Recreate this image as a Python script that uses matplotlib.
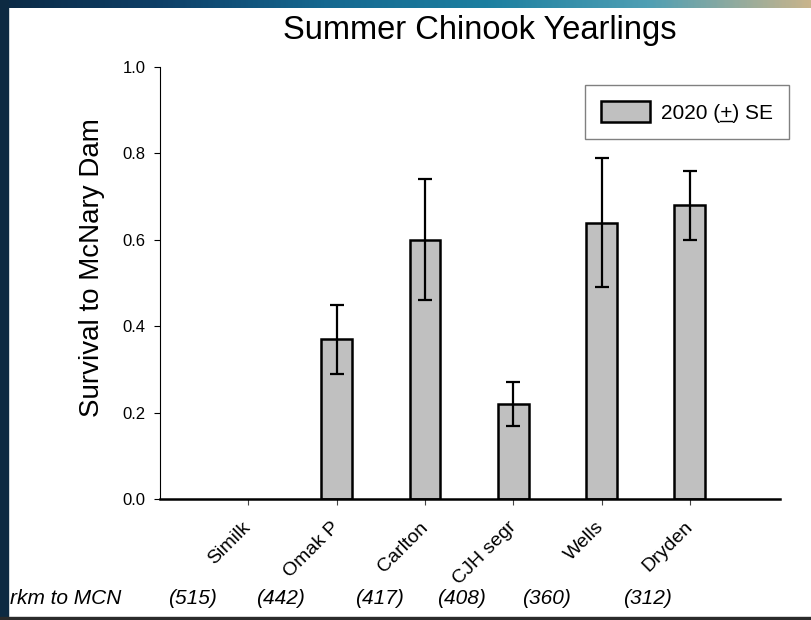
import matplotlib
matplotlib.use('Agg')
import matplotlib.pyplot as plt
import numpy as np
from matplotlib.colors import LinearSegmentedColormap
from matplotlib.patches import Rectangle
from matplotlib.lines import Line2D
from matplotlib import transforms

# ---------------- data ----------------
sites = ['Similk', 'Omak P', 'Carlton', 'CJH segr', 'Wells', 'Dryden']
survival = [np.nan, 0.37, 0.60, 0.22, 0.64, 0.68]
se = [np.nan, 0.08, 0.14, 0.05, 0.15, 0.08]
rkm = ['(515)', '(442)', '(417)', '(408)', '(360)', '(312)']
yticks = [0.0, 0.2, 0.4, 0.6, 0.8, 1.0]
legend_label = '2020 (+) SE'
title = 'Summer Chinook Yearlings'
ylabel = 'Survival to McNary Dam'
rkm_title = 'rkm to MCN'

# ---------------- layout ----------------
W, H = 812, 620
rkm_dx = [-56, -56, -46, -52, -55, -42]   # pixel nudges of the rkm labels

plt.rcParams['font.family'] = ['Liberation Sans', 'DejaVu Sans']
fig = plt.figure(figsize=(W / 100, H / 100), dpi=100, facecolor='white')

# slide frame (dark bands)
bg = fig.add_axes([0, 0, 1, 1], zorder=-10)
bg.set_axis_off()
cmap = LinearSegmentedColormap.from_list(
    'band', ['#0b2a45', '#0e4068', '#156890', '#1c7fa0', '#4f9fb4', '#c8b48c'])
grad = np.linspace(0, 1, 400).reshape(1, -1)
bg.imshow(grad, extent=(0, W, 8, 0), aspect='auto', cmap=cmap)
bg.add_patch(Rectangle((0, 0), 8, H, color='#0d2a42'))
bg.add_patch(Rectangle((0, 617), W, 3, color='#2b2b2b'))
bg.set_xlim(0, W)
bg.set_ylim(H, 0)

# main axes
ax = fig.add_axes([160 / W, 1 - 499 / H, 620 / W, 432 / H])
x = np.arange(len(sites))
bars = ax.bar(x, survival, width=0.35, color='#c0c0c0', edgecolor='black',
              linewidth=1.8, label=legend_label, zorder=2)
ax.errorbar(x, survival, yerr=se, fmt='none', ecolor='black', elinewidth=1.6,
            capsize=4.7, capthick=1.6, zorder=3)

ax.set_xlim(-1.0, 6.02)
ax.set_ylim(0, 1.0)
ax.set_yticks(yticks)
ax.set_yticklabels([f'{v:.1f}' for v in yticks])
ax.set_xticks(x)
ax.set_xticklabels(sites)
for s in ['top', 'right']:
    ax.spines[s].set_visible(False)
ax.spines['left'].set_linewidth(0.8)
ax.spines['bottom'].set_linewidth(1.8)
ax.tick_params(axis='y', direction='out', length=4.5, width=0.8, pad=6,
               labelsize=12)
ax.tick_params(axis='x', direction='out', length=4.5, width=0.8, pad=14,
               labelsize=14, color='#444444')
plt.setp(ax.get_xticklabels(), rotation=45, ha='right', va='center',
         rotation_mode='anchor')

# title and y label
fig.text(480 / W, 1 - 31 / H, title, ha='center', va='center', fontsize=23.5)
fig.text(92 / W, 1 - 268 / H, ylabel, rotation=90, ha='center', va='center',
         fontsize=20)

# rkm row
ry = 1 - 598 / H
fig.text(10 / W, ry, rkm_title, style='italic', fontsize=15, ha='left',
         va='center')
blend = transforms.blended_transform_factory(ax.transData, fig.transFigure)
for i, (lab, dx) in enumerate(zip(rkm, rkm_dx)):
    tr = transforms.offset_copy(blend, fig=fig, x=dx, y=0, units='dots')
    fig.text(x[i], ry, lab, transform=tr, style='italic', fontsize=15,
             ha='center', va='center')

# legend
leg = fig.legend(handles=[bars], labels=[legend_label], loc='upper right',
                 bbox_to_anchor=(789 / W, 1 - 85 / H), fontsize=15,
                 frameon=True, fancybox=False, edgecolor='#808080',
                 framealpha=1, handlelength=2.35, handleheight=1.2,
                 handletextpad=0.53, borderpad=0.77, borderaxespad=0)
leg.get_frame().set_linewidth(1.0)

# underline the "+" in the legend text
fig.canvas.draw()
renderer = fig.canvas.get_renderer()
t = leg.get_texts()[0]
bb = t.get_window_extent(renderer)
fp = t.get_fontproperties()
pre = legend_label[:legend_label.index('+')]
w_pre, _, _ = renderer.get_text_width_height_descent(pre, fp, ismath=False)
w_plus, _, _ = renderer.get_text_width_height_descent('+', fp, ismath=False)
x0 = bb.x0 + w_pre
x1 = x0 + w_plus
yy = bb.y0 + 2
inv = fig.transFigure.inverted()
(fx0, fy), (fx1, _) = inv.transform([(x0, yy), (x1, yy)])
fig.add_artist(Line2D([fx0, fx1], [fy, fy], transform=fig.transFigure,
                      color='black', linewidth=1.0, zorder=20))

fig.savefig('out.png', dpi=100, facecolor=fig.get_facecolor())
